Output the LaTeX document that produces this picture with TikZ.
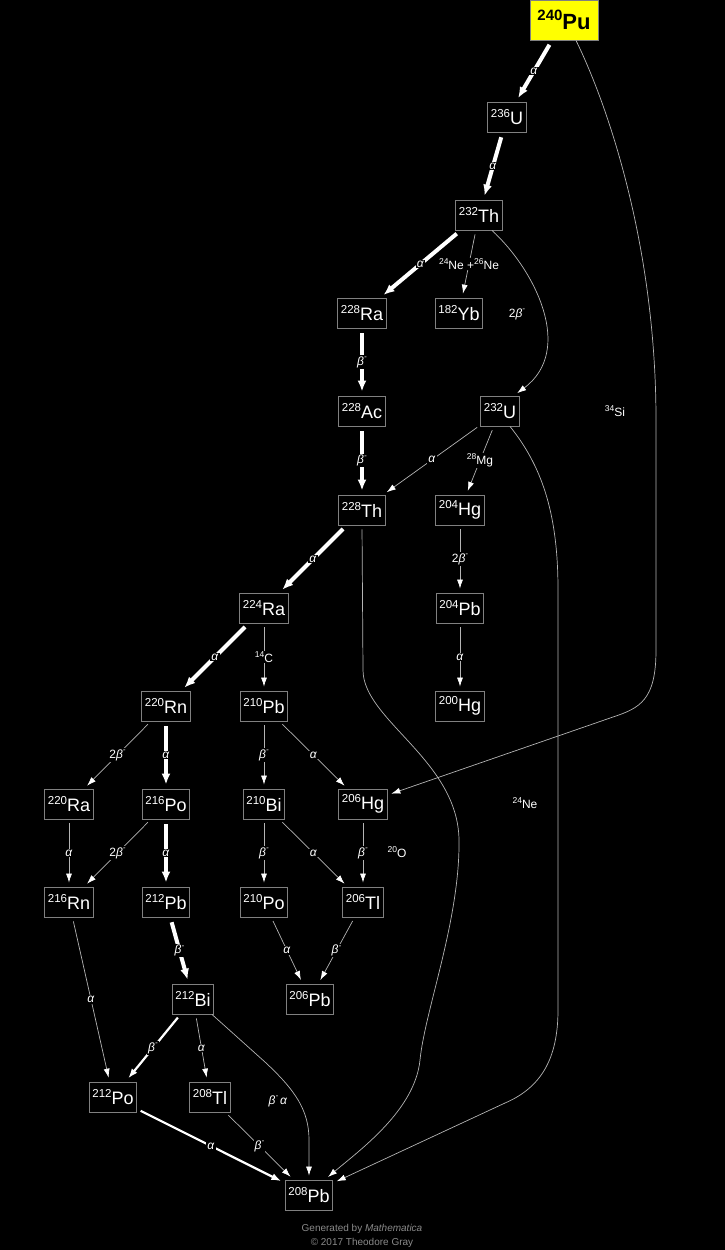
\documentclass[tikz,border=0pt]{standalone}
\usepackage{fontspec}
\setmainfont{Liberation Sans}
\usetikzlibrary{arrows.meta}
\definecolor{boxgray}{HTML}{808080}
\definecolor{edgegray}{HTML}{B4B4B4}
\definecolor{footgray}{HTML}{8A8A8A}
\definecolor{puyellow}{HTML}{FFFF00}
\newcommand{\nuc}[2]{\raisebox{7.5pt}{\fontsize{11.5}{11.5}\selectfont #1}#2}
\newcommand{\iso}[2]{\raisebox{4.5pt}{\fontsize{8.5}{8.5}\selectfont #1}#2}
\newcommand{\alp}{\textit{α}}
\newcommand{\bmin}{\textit{β}\raisebox{5.5pt}{\fontsize{8}{8}\selectfont\textit{-}}}
\begin{document}
\begin{tikzpicture}[x=1pt,y=-1pt,
 nucl/.style={draw=boxgray, line width=0.9pt, fill=black, text=white, minimum height=30pt, inner xsep=3pt, inner ysep=0pt, font=\fontsize{18}{18}\selectfont},
 lbl/.style={fill=black, text=white, inner sep=1pt, font=\fontsize{12}{12}\selectfont},
 freelbl/.style={text=white, inner sep=1pt, font=\fontsize{12}{12}\selectfont},
 thin edge/.style={draw=edgegray, line width=0.7pt, -{Latex[length=9pt,width=6pt,color=white]}, shorten <=4pt, shorten >=4pt},
 thick edge/.style={draw=white, line width=4pt, -{Latex[length=11pt,width=9pt]}, shorten <=5pt, shorten >=4pt},
 mid edge/.style={draw=white, line width=2.2pt, -{Latex[length=10pt,width=7pt]}, shorten <=4pt, shorten >=4pt},
]
\fill[black] (0,0) rectangle (725,1250);
\useasboundingbox (0,0) rectangle (725,1250);

% nodes
\node[nucl, fill=puyellow, text=black, minimum width=68pt, minimum height=40pt, font=\bfseries\fontsize{22}{22}\selectfont] (Pu240) at (564,20) {\raisebox{9pt}{\fontsize{15}{15}\selectfont\bfseries 240}Pu};
\node[nucl] (U236) at (507,117) {\nuc{236}{U}};
\node[nucl] (Th232) at (479,215) {\nuc{232}{Th}};
\node[nucl] (Ra228) at (362,313) {\nuc{228}{Ra}};
\node[nucl] (Yb182) at (459,313) {\nuc{182}{Yb}};
\node[nucl] (Ac228) at (362,411) {\nuc{228}{Ac}};
\node[nucl] (U232) at (500,411) {\nuc{232}{U}};
\node[nucl] (Th228) at (362,510) {\nuc{228}{Th}};
\node[nucl] (Hg204) at (460,510) {\nuc{204}{Hg}};
\node[nucl] (Ra224) at (264,608) {\nuc{224}{Ra}};
\node[nucl] (Pb204) at (460,608) {\nuc{204}{Pb}};
\node[nucl] (Rn220) at (166,706) {\nuc{220}{Rn}};
\node[nucl] (Pb210) at (264,706) {\nuc{210}{Pb}};
\node[nucl] (Hg200) at (460,706) {\nuc{200}{Hg}};
\node[nucl] (Ra220) at (69,804) {\nuc{220}{Ra}};
\node[nucl] (Po216) at (166,804) {\nuc{216}{Po}};
\node[nucl] (Bi210) at (264,804) {\nuc{210}{Bi}};
\node[nucl] (Hg206) at (363,804) {\nuc{206}{Hg}};
\node[nucl] (Rn216) at (69,902) {\nuc{216}{Rn}};
\node[nucl] (Pb212) at (166,902) {\nuc{212}{Pb}};
\node[nucl] (Po210) at (264,902) {\nuc{210}{Po}};
\node[nucl] (Tl206) at (363,902) {\nuc{206}{Tl}};
\node[nucl] (Bi212) at (193,999) {\nuc{212}{Bi}};
\node[nucl] (Pb206) at (310,999) {\nuc{206}{Pb}};
\node[nucl] (Po212) at (113,1097) {\nuc{212}{Po}};
\node[nucl] (Tl208) at (210,1097) {\nuc{208}{Tl}};
\node[nucl] (Pb208) at (309,1195) {\nuc{208}{Pb}};

% straight edges
\draw[thick edge] (Pu240) -- node[lbl]{\alp} (U236);
\draw[thick edge] (U236) -- node[lbl]{\alp} (Th232);
\draw[thick edge] (Th232) -- node[lbl]{\alp} (Ra228);
\draw[thin edge] (Th232) -- node[lbl]{\iso{24}{Ne} +\iso{26}{Ne}} (Yb182);
\draw[thick edge] (Ra228) -- node[lbl]{\bmin} (Ac228);
\draw[thick edge] (Ac228) -- node[lbl]{\bmin} (Th228);
\draw[thin edge] (U232) -- node[lbl]{\alp} (Th228);
\draw[thin edge] (U232) -- node[lbl]{\iso{28}{Mg}} (Hg204);
\draw[thick edge] (Th228) -- node[lbl]{\alp} (Ra224);
\draw[thin edge] (Hg204) -- node[lbl]{2\bmin} (Pb204);
\draw[thin edge] (Pb204) -- node[lbl]{\alp} (Hg200);
\draw[thick edge] (Ra224) -- node[lbl]{\alp} (Rn220);
\draw[thin edge] (Ra224) -- node[lbl]{\iso{14}{C}} (Pb210);
\draw[thin edge] (Rn220) -- node[lbl]{2\bmin} (Ra220);
\draw[thick edge] (Rn220) -- node[lbl]{\alp} (Po216);
\draw[thin edge] (Pb210) -- node[lbl]{\bmin} (Bi210);
\draw[thin edge] (Pb210) -- node[lbl]{\alp} (Hg206);
\draw[thin edge] (Ra220) -- node[lbl]{\alp} (Rn216);
\draw[thin edge] (Po216) -- node[lbl]{2\bmin} (Rn216);
\draw[thick edge] (Po216) -- node[lbl]{\alp} (Pb212);
\draw[thin edge] (Bi210) -- node[lbl]{\bmin} (Po210);
\draw[thin edge] (Bi210) -- node[lbl]{\alp} (Tl206);
\draw[thin edge] (Hg206) -- node[lbl]{\bmin} (Tl206);
\draw[thin edge] (Rn216) -- node[lbl]{\alp} (Po212);
\draw[thick edge] (Pb212) -- node[lbl]{\bmin} (Bi212);
\draw[thin edge] (Po210) -- node[lbl]{\alp} (Pb206);
\draw[thin edge] (Tl206) -- node[lbl]{\bmin} (Pb206);
\draw[mid edge] (Bi212) -- node[lbl]{\bmin} (Po212);
\draw[thin edge] (Bi212) -- node[lbl]{\alp} (Tl208);
\draw[mid edge] (Po212) -- node[lbl]{\alp} (Pb208);
\draw[thin edge] (Tl208) -- node[lbl]{\bmin} (Pb208);

% curved edges
\draw[thin edge, shorten <=0pt] ([xshift=12pt]Pu240.south) .. controls (610,110) and (656,250) .. (656,420) -- (656,650) .. controls (656,700) and (640,708) .. (613,717) -- ([yshift=9pt]Hg206.east);
\draw[thin edge, shorten <=0pt] ([xshift=13pt]Th232.south) .. controls (535,270) and (575,350) .. ([xshift=14pt]U232.north);
\draw[thin edge, shorten <=0pt] ([xshift=10pt]U232.south) .. controls (545,470) and (558,520) .. (558,590) -- (558,1010) .. controls (558,1060) and (540,1088) .. (505,1103) -- ([yshift=12pt]Pb208.east);
\draw[thin edge] (Th228.south) -- (363,670) .. controls (363,720) and (458,760) .. (459,840) .. controls (460,920) and (425,1010) .. (420,1060) .. controls (415,1110) and (360,1150) .. ([xshift=16pt]Pb208.north);
\draw[thin edge, shorten <=0pt] ([xshift=19pt]Bi212.south) -- (265,1062) .. controls (295,1090) and (309,1110) .. (309,1140) -- (Pb208.north);

% free labels
\node[freelbl] (l2b) at (517,314) {2\bmin};
\node[freelbl] (lSi) at (615,411) {\iso{34}{Si}};
\node[freelbl] (lNe) at (525,803) {\iso{24}{Ne}};
\node[freelbl] (lO) at (397,852) {\iso{20}{O}};
\node[freelbl] (lba) at (278,1101) {\bmin\,\alp};

% footer
\node[text=footgray, font=\fontsize{10}{10}\selectfont] (gen) at (362,1229) {Generated by \textit{Mathematica}};
\node[text=footgray, font=\fontsize{10}{10}\selectfont] (copy) at (362,1243) {© 2017 Theodore Gray};
\end{tikzpicture}
\end{document}
